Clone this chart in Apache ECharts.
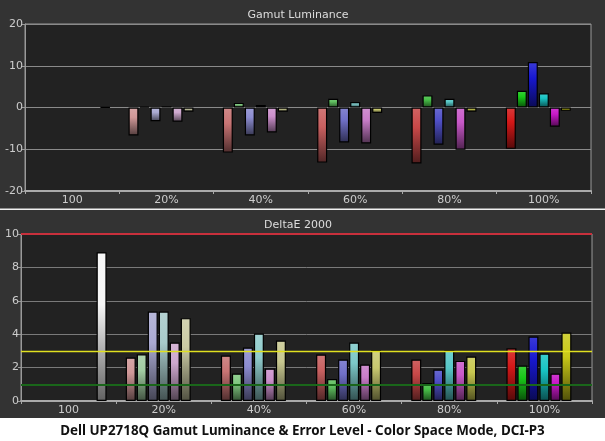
<!DOCTYPE html>
<html>
<head>
<meta charset="utf-8">
<script src="https://cdn.jsdelivr.net/npm/echarts@6/dist/echarts.min.js"></script>
<style>
html,body{margin:0;padding:0;background:#ffffff;}
#chart{width:605px;height:441px;}
</style>
</head>
<body>
<div id="chart"></div>
<script>
// ---- data ----
const categories = ['100', '20%', '40%', '60%', '80%', '100%'];
const seriesNames = ['Red', 'Green', 'Blue', 'Cyan', 'Magenta', 'Yellow', 'White'];

// Gamut luminance error (%)
const lumRed     = [null, -6.7, -10.8, -13.2, -13.4, -9.9];
const lumGreen   = [null, 0.2, 1.1, 2.1, 2.9, 4.0];
const lumBlue    = [null, -3.3, -6.7, -8.4, -8.9, 10.9];
const lumCyan    = [null, 0.3, 0.6, 1.3, 2.1, 3.4];
const lumMagenta = [null, -3.4, -6.0, -8.6, -10.1, -4.6];
const lumYellow  = [null, -1.0, -1.0, -1.3, -1.0, -0.8];
const lumWhite   = [0.1, null, null, null, null, null];

// DeltaE 2000
const deRed     = [null, 2.6, 2.72, 2.78, 2.48, 3.16];
const deGreen   = [null, 2.8, 1.64, 1.32, 1.08, 2.12];
const deBlue    = [null, 5.36, 3.2, 2.48, 1.88, 3.86];
const deCyan    = [null, 5.36, 4.04, 3.5, 3.06, 2.84];
const deMagenta = [null, 3.5, 1.94, 2.18, 2.4, 1.64];
const deYellow  = [null, 4.96, 3.62, 3.06, 2.66, 4.1];
const deWhite   = [8.9, null, null, null, null, null];

const deThresholds = [10, 3, 1];

const lumSeries = [lumRed, lumGreen, lumBlue, lumCyan, lumMagenta, lumYellow, lumWhite];
const deSeries = [deRed, deGreen, deBlue, deCyan, deMagenta, deYellow, deWhite];

// ---- styles ----
const palette = [
  ['#c0c0c0', '#c0c0c0', '#c0c0c0', '#c0c0c0', '#c0c0c0', '#c0c0c0', '#f6f6f6'],
  ['#d09898', '#a2cca2', '#aaaad2', '#a8caca', '#cea8ce', '#cacaa4', '#f6f6f6'],
  ['#c87474', '#80c880', '#8c8cd0', '#90cccc', '#cc90cc', '#c8c890', '#f6f6f6'],
  ['#c86060', '#60c060', '#7070c8', '#7cc8c8', '#c87cc8', '#c8c870', '#f6f6f6'],
  ['#c84848', '#48c048', '#5050c8', '#58c8c8', '#c858c8', '#c8c850', '#f6f6f6'],
  ['#d41818', '#18c818', '#1818d0', '#18c4c4', '#c818c8', '#c8c818', '#f6f6f6']
];
const thresholdColors = ['#c8303c', '#e0e020', '#1a661a'];
const thresholdWidths = [2, 1.3, 2];

function hexToRgb(h) {
  h = h.replace('#', '');
  return [parseInt(h.substr(0, 2), 16), parseInt(h.substr(2, 2), 16), parseInt(h.substr(4, 2), 16)];
}
function mix(hex, target, t) {
  const a = hexToRgb(hex), b = hexToRgb(target);
  const c = a.map((v, i) => Math.round(v + (b[i] - v) * t));
  return 'rgb(' + c.join(',') + ')';
}
function grad(hex) {
  return {
    type: 'linear', x: 0, y: 0, x2: 0, y2: 1,
    colorStops: [
      { offset: 0, color: mix(hex, '#ffffff', 0.15) },
      { offset: 0.35, color: hex },
      { offset: 1, color: mix(hex, '#000000', 0.6) }
    ]
  };
}

const labelStyle = { color: '#cccccc', fontSize: 11, fontFamily: 'DejaVu Sans' };

function makeSeries(dataSets, axisIndex, withMarks) {
  return dataSets.map((arr, s) => {
    const ser = {
      name: seriesNames[s],
      type: 'bar',
      xAxisIndex: axisIndex,
      yAxisIndex: axisIndex,
      barWidth: 10,
      barGap: '10%',
      z: s === 6 ? 4 : 2,
      itemStyle: { borderColor: '#000000', borderWidth: 1.2 },
      data: arr.map((v, i) => v == null ? '-' : { value: v, itemStyle: { color: grad(palette[i][s]) } })
    };
    if (withMarks && s === 6) {
      ser.markLine = {
        silent: true,
        symbol: ['none', 'none'],
        label: { show: false },
        data: deThresholds.map((t, k) => ({
          yAxis: t,
          lineStyle: { color: thresholdColors[k], width: thresholdWidths[k], type: 'solid' }
        }))
      };
    }
    return ser;
  });
}

const chart = echarts.init(document.getElementById('chart'), null, { renderer: 'canvas' });

const option = {
  backgroundColor: '#ffffff',
  animation: false,
  graphic: [
    { type: 'rect', shape: { x: 0, y: 0, width: 605, height: 418 }, style: { fill: '#333333' }, z: -10, silent: true },
    { type: 'rect', shape: { x: 0, y: 208.5, width: 605, height: 1.5 }, style: { fill: '#f0f0f0' }, z: -9, silent: true },
    { type: 'text', x: 298, y: 15, style: { text: 'Gamut Luminance', fill: '#dddddd', font: '11px "DejaVu Sans"', textAlign: 'center', textVerticalAlign: 'middle' }, silent: true },
    { type: 'text', x: 298, y: 225, style: { text: 'DeltaE 2000', fill: '#dddddd', font: '11px "DejaVu Sans"', textAlign: 'center', textVerticalAlign: 'middle' }, silent: true },
    { type: 'text', x: 302.5, y: 431, style: { text: 'Dell UP2718Q Gamut Luminance & Error Level - Color Space Mode, DCI-P3', fill: '#111111', font: 'bold 13.4px "Noto Sans"', textAlign: 'center', textVerticalAlign: 'middle' }, silent: true }
  ],
  grid: [
    { left: 25, right: 14, top: 24, height: 167, show: true, backgroundColor: '#222222', borderColor: '#999999', borderWidth: 1 },
    { left: 21, right: 13, top: 234, height: 167, show: true, backgroundColor: '#222222', borderColor: '#999999', borderWidth: 1 }
  ],
  xAxis: [0, 1].map(g => ({
    type: 'category',
    gridIndex: g,
    data: categories,
    boundaryGap: true,
    axisLine: { show: true, onZero: false, lineStyle: { color: '#aaaaaa', width: 2 } },
    axisTick: { show: true, length: 3, lineStyle: { color: '#aaaaaa' } },
    axisLabel: Object.assign({ margin: 4 }, labelStyle),
    splitLine: { show: false }
  })),
  yAxis: [
    {
      type: 'value', gridIndex: 0, min: -20, max: 20, interval: 10,
      axisLine: { show: true, lineStyle: { color: '#999999' } },
      axisTick: { show: true, length: 3, lineStyle: { color: '#999999' } },
      axisLabel: Object.assign({ margin: 2 }, labelStyle),
      splitLine: { show: true, lineStyle: { color: '#8a8a8a', width: 1 } }
    },
    {
      type: 'value', gridIndex: 1, min: 0, max: 10, interval: 2,
      axisLine: { show: true, lineStyle: { color: '#999999' } },
      axisTick: { show: true, length: 3, lineStyle: { color: '#999999' } },
      axisLabel: Object.assign({ margin: 2 }, labelStyle),
      splitLine: { show: true, lineStyle: { color: '#7a7a7a', width: 1 } }
    }
  ],
  series: makeSeries(lumSeries, 0, false).concat(makeSeries(deSeries, 1, true))
};

chart.setOption(option);
</script>
</body>
</html>
